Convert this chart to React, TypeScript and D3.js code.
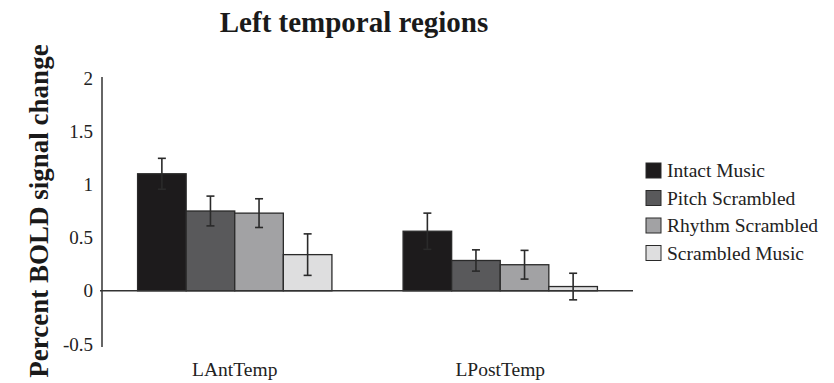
import React from "react";
import * as d3 from "d3";

const categories = ["LAntTemp", "LPostTemp"];
const seriesNames = ["Intact Music", "Pitch Scrambled", "Rhythm Scrambled", "Scrambled Music"];
const seriesColors = ["#1d1b1c", "#59595b", "#a2a2a4", "#dededf"];
// values[series][category]
const intactValues = [1.1, 0.56];
const pitchValues = [0.75, 0.285];
const rhythmValues = [0.73, 0.245];
const scrambledValues = [0.34, 0.04];
const intactErr = [0.145, 0.17];
const pitchErr = [0.14, 0.1];
const rhythmErr = [0.135, 0.135];
const scrambledErr = [0.195, 0.125];
const yTicks = [-0.5, 0, 0.5, 1, 1.5, 2];
const yTickLabels = ["-0.5", "0", "0.5", "1", "1.5", "2"];

const values = [intactValues, pitchValues, rhythmValues, scrambledValues];
const errors = [intactErr, pitchErr, rhythmErr, scrambledErr];

const W = 834;
const H = 383;
const FONT = "'Liberation Serif', 'Times New Roman', serif";
const TEXT = "#222";

export default function App() {
  const axisX = 102;
  const right = 633;
  const y = d3.scaleLinear().domain([-0.5, 2]).range([344, 78]);
  const x0 = d3
    .scaleBand<string>()
    .domain(categories)
    .range([axisX, right])
    .paddingInner(0.268)
    .paddingOuter(0.134);
  const x1 = d3
    .scaleBand<string>()
    .domain(seriesNames)
    .range([0, x0.bandwidth()])
    .padding(0);

  return (
    <svg
      width={W}
      height={H}
      viewBox={`0 0 ${W} ${H}`}
      style={{ position: "absolute", left: 0, top: 0, background: "#fff" }}
      fontFamily={FONT}
    >
      <rect x={0} y={0} width={W} height={H} fill="#fff" />
      <text x={354} y={32} textAnchor="middle" fontSize={29} fontWeight="bold" fill="#1a1a1a">
        Left temporal regions
      </text>
      <text
        transform={`translate(48, 211) rotate(-90)`}
        textAnchor="middle"
        fontSize={27}
        fontWeight="bold"
        fill="#1a1a1a"
      >
        Percent BOLD signal change
      </text>

      {yTicks.map((t, i) => (
        <text key={t} x={93} y={y(t)} dy="0.35em" textAnchor="end" fontSize={19} fill={TEXT}>
          {yTickLabels[i]}
        </text>
      ))}

      {seriesNames.map((s, si) =>
        categories.map((c, ci) => {
          const v = values[si][ci];
          const xx = (x0(c) as number) + (x1(s) as number);
          const bw = x1.bandwidth();
          const top = y(Math.max(v, 0));
          const h = Math.abs(y(v) - y(0));
          return (
            <rect
              key={s + c}
              x={xx}
              y={top}
              width={bw}
              height={h}
              fill={seriesColors[si]}
              stroke="#2a2a2a"
              strokeWidth={1.3}
            />
          );
        })
      )}

      {seriesNames.map((s, si) =>
        categories.map((c, ci) => {
          const v = values[si][ci];
          const e = errors[si][ci];
          const cx = (x0(c) as number) + (x1(s) as number) + x1.bandwidth() / 2;
          const y1 = y(v + e);
          const y2 = y(v - e);
          return (
            <g key={"e" + s + c} stroke="#2a2a2a" strokeWidth={1.6}>
              <line x1={cx} x2={cx} y1={y1} y2={y2} />
              <line x1={cx - 4} x2={cx + 4} y1={y1} y2={y1} />
              <line x1={cx - 4} x2={cx + 4} y1={y2} y2={y2} />
            </g>
          );
        })
      )}

      <line x1={axisX} x2={axisX} y1={y(2) - 1} y2={y(-0.5) + 3} stroke="#333" strokeWidth={1.5} />
      <line x1={axisX - 2} x2={right} y1={y(0)} y2={y(0)} stroke="#333" strokeWidth={1.5} />

      {categories.map((c) => (
        <text
          key={c}
          x={(x0(c) as number) + x0.bandwidth() / 2}
          y={376}
          textAnchor="middle"
          fontSize={19.5}
          fill={TEXT}
        >
          {c}
        </text>
      ))}

      {seriesNames.map((s, i) => (
        <g key={"l" + s} transform={`translate(646, ${163 + i * 27.5})`}>
          <rect x={0} y={0} width={15} height={15} fill={seriesColors[i]} stroke="#2a2a2a" strokeWidth={1} />
          <text x={21} y={14} fontSize={19.5} fill={TEXT}>
            {s}
          </text>
        </g>
      ))}
    </svg>
  );
}
